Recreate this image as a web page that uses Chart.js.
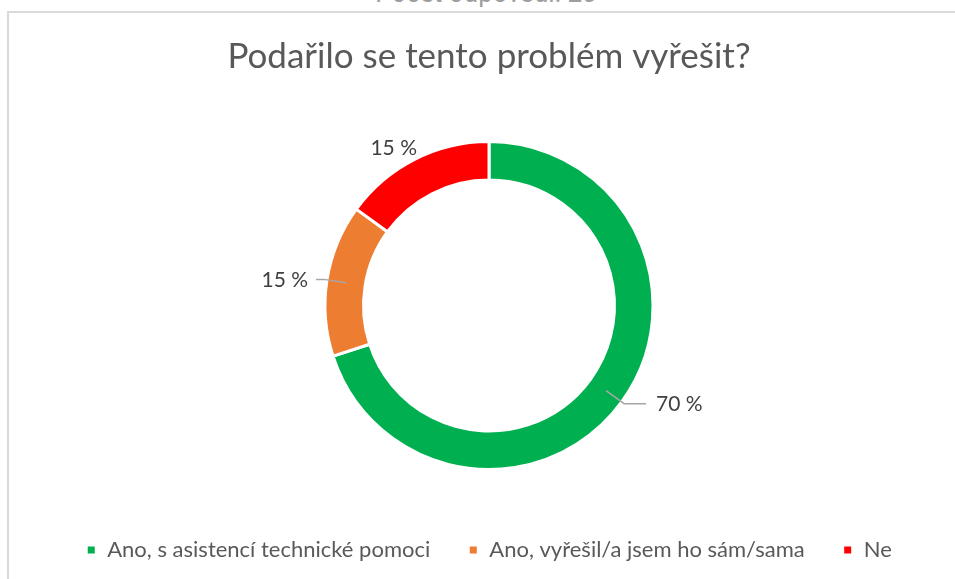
<!DOCTYPE html>
<html>
<head>
<meta charset="utf-8">
<script src="https://cdn.jsdelivr.net/npm/chart.js@4"></script>
<style>
  html, body { margin: 0; padding: 0; background: #fff; overflow: hidden; }
  #wrap { position: relative; width: 955px; height: 579px; }
  #header {
    position: absolute; left: 0; width: 972px; top: -22px;
    text-align: center; font: 26px Roboto, sans-serif; color: #9e9e9e;
  }
  #frame {
    position: absolute; left: 7px; top: 11px; width: 1000px; height: 700px;
    border-top: 2px solid #dadada; border-left: 2px solid #dadada;
  }
  #box { position: absolute; left: 0; top: 0; width: 955px; height: 579px; }
</style>
</head>
<body>
<div id="wrap">
  <div id="header">Počet odpovědí: 20</div>
  <div id="frame"></div>
  <div id="box"><canvas id="chart"></canvas></div>
</div>
<script>
// answers to the question, share of 20 responses
var categories = ['Ano, s asistencí technické pomoci', 'Ano, vyřešil/a jsem ho sám/sama', 'Ne'];
var percents = [70, 15, 15];
var colors = ['#00b050', '#ed7d31', '#ff0000'];

// percentage labels outside the ring, some with a leader line
var outsideLabels = {
    id: 'outsideLabels',
    afterDatasetsDraw: function (chart, args, opts) {
        var ctx = chart.ctx;
        var arcs = chart.getDatasetMeta(0).data;
        ctx.save();
        ctx.font = '21px Lato, sans-serif';
        ctx.fillStyle = '#404040';
        ctx.textBaseline = 'middle';
        arcs.forEach(function (arc, i) {
            var p = arc.getProps(['x', 'y', 'startAngle', 'endAngle', 'innerRadius', 'outerRadius'], true);
            var mid = (p.startAngle + p.endAngle) / 2;
            var c = Math.cos(mid), s = Math.sin(mid);
            var side = c < 0 ? -1 : 1;
            var text = percents[i] + ' %';
            var len = opts.leaders[i];
            ctx.textAlign = side < 0 ? 'right' : 'left';
            if (len) {
                var r0 = (p.innerRadius + p.outerRadius) / 2;
                var r1 = p.outerRadius + 3;
                var ex = p.x + c * r1, ey = p.y + s * r1;
                var hx = ex + side * len;
                ctx.strokeStyle = '#a6a6a6';
                ctx.lineWidth = 1.5;
                ctx.beginPath();
                ctx.moveTo(p.x + c * r0, p.y + s * r0);
                ctx.lineTo(ex, ey);
                ctx.lineTo(hx, ey);
                ctx.stroke();
                ctx.fillText(text, hx + side * (len > 10 ? 10 : 8), ey + 1);
            } else {
                var r2 = p.outerRadius + 10;
                ctx.fillText(text, p.x + c * r2 + 7, p.y + s * r2 - 2);
            }
        });
        ctx.restore();
    }
};

new Chart(document.getElementById('chart'), {
    type: 'doughnut',
    data: {
        labels: categories,
        datasets: [{
            data: percents,
            backgroundColor: colors,
            borderColor: '#ffffff',
            borderWidth: 3
        }]
    },
    options: {
        responsive: true,
        maintainAspectRatio: false,
        animation: false,
        cutout: '76.5%',
        layout: { padding: { left: 23, right: 0, top: 0, bottom: 8 } },
        plugins: {
            title: {
                display: true,
                text: 'Podařilo se tento problém vyřešit?',
                color: '#595959',
                font: { family: 'Lato', size: 35, weight: 'normal' },
                padding: { top: 36, bottom: 62 }
            },
            legend: {
                position: 'bottom',
                title: {
                    display: true,
                    text: '',
                    font: { size: 10 },
                    padding: { top: 0, bottom: 18 }
                },
                labels: {
                    color: '#595959',
                    font: { family: 'Lato', size: 22 },
                    boxWidth: 10,
                    boxHeight: 10,
                    padding: 38
                }
            },
            tooltip: { enabled: false },
            outsideLabels: { leaders: [22, 8, 0] }
        }
    },
    plugins: [outsideLabels]
});
</script>
</body>
</html>
